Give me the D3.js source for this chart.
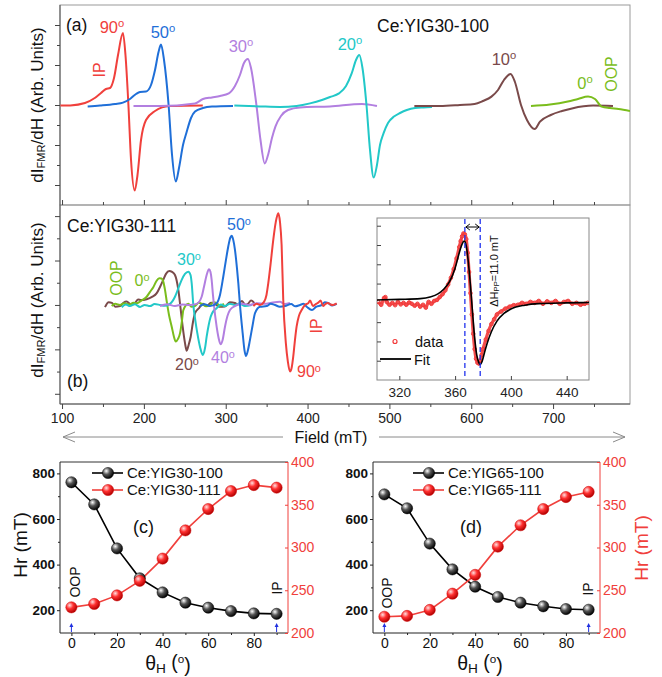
<!DOCTYPE html>
<html>
<head>
<meta charset="utf-8">
<script src="https://cdn.jsdelivr.net/npm/d3@7"></script>
<style>
  body { margin: 0; background: #fff; }
  svg { display: block; }
  text { font-family: "Liberation Sans", Arial, sans-serif; }
</style>
</head>
<body>
<svg id="fig" width="662" height="677"></svg>
<script>
// ---------- field axis (mT) ----------
const fieldMajor = [100, 200, 300, 400, 500, 600, 700];
const fieldMinor = [150, 250, 350, 450, 550, 650, 750];

// ---------- (a) Ce:YIG30-100 spectra: [field mT, dI/dH arb.] ----------
const a90 = [[98,-0.03],[110,-0.02],[128,0.1],[140,0.35],[147.6,0.6],[153.7,0.8],[158.6,0.85],[163.5,1.35],[168.4,2.5],[174.4,3.6],[177.5,2.5],[181.1,0],[184.3,-2.75],[188.8,-4.28],[192.2,-3.5],[196.5,-1.75],[202.6,-0.75],[213.6,-0.3],[231.3,-0.05],[272,-0.02]];
const a50 = [[131.3,-0.08],[146.4,-0.03],[164.7,0.05],[174.4,0.12],[183,0.3],[190.4,0.55],[195.3,0.65],[202.6,0.67],[208.7,1.0],[213.6,1.75],[217.9,2.65],[220.9,3.03],[224.6,2.25],[230.2,0],[234.4,-2.5],[239,-3.83],[242.9,-3.15],[247.8,-2.0],[251.9,-1.4],[257.6,-0.65],[262.5,-0.33],[272.2,-0.15],[283.2,-0.08],[308.9,-0.05]];
const a30 = [[187.3,-0.05],[219.7,-0.05],[262.5,0.08],[272.2,0.3],[283.2,0.38],[293,0.45],[303.8,0.58],[311.3,0.95],[317.4,1.5],[322.3,2.1],[327.1,2.3],[330.9,1.85],[337.5,0],[342.5,-1.75],[347.7,-2.92],[351.7,-2.5],[356.5,-1.65],[360.7,-1.08],[367.5,-0.55],[376.1,-0.25],[390.8,-0.12],[427.4,-0.07],[466.5,0.05],[484.8,-0.05]];
const a20 = [[310.5,-0.02],[341.9,-0.07],[366.3,-0.1],[386.6,-0.05],[403,0.08],[417.6,0.25],[427.4,0.4],[438.4,0.58],[447,0.95],[453.9,1.58],[459.2,2.25],[463.2,2.5],[467.1,1.85],[472,0],[476.3,-2.25],[480.8,-3.63],[484.8,-3.0],[488.5,-2.0],[492.8,-1.42],[498.3,-0.9],[505.6,-0.58],[513,-0.4],[521.3,-0.25],[531.3,-0.15],[541.9,-0.12],[552,-0.1]];
const a10 = [[530.5,-0.05],[561.8,-0.05],[586.2,0],[604.1,0.05],[614.3,0.2],[624.7,0.42],[632.7,0.75],[640,1.25],[648.1,1.55],[653.4,1.15],[660.8,0],[668.1,-0.75],[677.5,-1.2],[684,-0.83],[697.2,-0.5],[710.9,-0.3],[723.1,-0.17],[748.8,-0.03],[773.2,-0.05]];
const a0 = [[673,-0.05],[696.2,0.02],[718,0.17],[730.5,0.3],[742.7,0.42],[751.2,0.3],[759.4,-0.08],[769.5,-0.15],[780,-0.2],[794,-0.3]];

// ---------- (b) Ce:YIG30-111 spectra ----------
const b20 = [[152.5,-0.1],[157,0.12],[161,0.09],[165,-0.08],[170.8,-0.05],[175,0.1],[179,0.15],[184,0.02],[189.1,0.09],[193,0.25],[196.5,0.22],[203.4,0.26],[209.9,0.36],[215.7,0.53],[219.7,0.81],[223.7,1.13],[227,1.4],[231.1,1.53],[234.4,1.49],[238,1.35],[242.1,0.68],[244.8,-0.14],[247.4,-0.98],[250.2,-1.71],[252.3,-2.06],[254.7,-1.8],[257.2,-1.43],[260,-0.77],[262.5,-0.37],[267.4,-0.14],[272,0.05],[276.7,-0.05],[282,0.1],[286.9,0.05],[292,-0.08],[299.1,-0.07],[305,0.12],[311.3,0.09],[315,0.02],[319.9,0.18],[324,0.0],[327.2,0.05],[331,0.2],[333.7,0.14],[335.8,0]];
const b0 = [[160.7,-0.05],[165,0.05],[170.8,0],[176,0.08],[183,0.02],[187,0.1],[191.2,0.08],[197.7,0.22],[203.4,0.37],[207.5,0.59],[211.5,0.8],[215.4,1.08],[218.8,1.2],[221.5,1.19],[223.7,1.05],[225.8,0.68],[228.2,0.09],[230.7,-0.45],[234,-0.98],[236.8,-1.44],[238.9,-1.65],[241.7,-1.53],[244.2,-1.27],[246.6,-0.68],[248.2,-0.23],[254.3,0.05],[258,-0.08],[262.5,-0.05],[267,0.1],[271,0.05],[276,-0.06],[280.8,-0.02],[285,0.12],[289.3,0.07],[293,-0.04],[297.9,0.05]];
const b30 = [[172.9,-0.1],[178,0.02],[183,-0.05],[189,0.03],[195.3,-0.09],[201,0.0],[207.5,-0.05],[213,0.04],[219.7,0],[225,-0.04],[231.9,0.05],[238,0.37],[242.3,0.77],[246.2,1.13],[250.2,1.4],[254.3,1.5],[257,1.35],[258.4,0.98],[260.4,0],[262.8,-0.68],[265.3,-1.27],[268.6,-1.89],[271.9,-2.25],[274.7,-1.94],[276.7,-1.43],[279.2,-0.9],[281.6,-0.53],[285,-0.27],[288.9,-0.15],[294,0.02],[299.1,-0.05],[305,0.05],[311.3,0],[317,0.06],[323.5,-0.05],[331.7,0]];
const b40 = [[219.7,-0.05],[228,0.03],[238,-0.05],[247,0.02],[256.4,0],[264.5,0.05],[270.6,0.37],[273.4,0.81],[276.7,1.35],[279.6,1.61],[281.3,1.49],[282.8,1.13],[284.4,0.45],[285.6,0],[288.9,-0.98],[291.3,-1.49],[293.8,-1.77],[296.2,-1.58],[299.1,-0.98],[302.1,-0.5],[305.2,-0.23],[311.3,-0.05],[320,0.05],[329.6,0],[338,0.08],[347.9,0.05],[356,0.1],[366.3,0.14],[372,0.04],[378.5,0.09]];
const b50 = [[268.6,-0.05],[274,0.03],[280.8,-0.05],[288.9,0.08],[293,0.45],[297,1.27],[300.3,2.03],[303.1,2.63],[305.5,3.02],[307.3,3.11],[309.2,2.93],[311.3,2.48],[313.7,1.67],[315.4,0.98],[317.4,0],[320.7,-1.27],[322.9,-2.03],[324.8,-2.3],[327.2,-2.03],[329.6,-1.58],[332.7,-0.95],[335.8,-0.37],[341.9,-0.08],[350,-0.05],[355,0.05],[360.2,0],[366,-0.08],[372.4,-0.05],[380,0.04],[385,-0.06],[390.8,0],[395,0.05],[399.3,-0.09],[405.4,-0.23],[410.3,-0.09],[417.6,0],[421,0.12],[425,0.09],[430,-0.02],[435.6,0.05]];
const b90 = [[333.7,-0.05],[338,0.05],[341.9,0],[346.8,0.14],[349.8,0.45],[352,0.98],[354.7,1.8],[358.1,2.93],[361.2,3.74],[364.2,4.13],[366.3,3.74],[368.3,2.7],[370.3,0.23],[373.5,-1.73],[376,-2.57],[378.5,-3.0],[380.5,-2.84],[382.5,-2.33],[384.6,-1.58],[386.6,-0.98],[389.4,-0.5],[392.8,-0.23],[396.8,0],[400.9,0.08],[403,0.2],[406.6,-0.05],[410,0.04],[412.7,0.09],[416,0.2],[418.9,-0.05],[422,0.05],[425,0.09],[428,0.02],[431.1,0],[435.6,0.07]];

// ---------- inset: single 90° line with fit ----------
const insetTicks = [320, 360, 400, 440];
const insetData = [[305,0.05],[307,-0.1],[309,0.25],[310,0.3],[311,0.05],[313,-0.1],[315,0.0],[317,-0.12],[319,0.05],[321,-0.08],[323,0.0],[325,-0.1],[327,0.02],[329,-0.05],[331,-0.15],[333,-0.05],[335,-0.2],[337,-0.1],[339,-0.25],[341,0.05],[343,-0.05],[345,0.1],[347,0.15],[349,0.3],[351,0.45],[353,0.65],[355,0.95],[357,1.3],[359,1.75],[361,2.3],[363,2.9],[364,3.2],[365,3.45],[366,3.6],[367,3.55],[368,3.3],[369,2.6],[370,1.6],[371,0.5],[372,-0.6],[373,-1.6],[374,-2.4],[375,-2.9],[376,-3.1],[377,-3.15],[378,-3.0],[379,-2.7],[380,-2.4],[382,-1.9],[384,-1.45],[386,-1.1],[388,-0.85],[390,-0.6],[393,-0.45],[396,-0.3],[399,-0.2],[402,-0.12],[405,-0.1],[408,0.0],[411,-0.05],[414,0.05],[417,0.0],[420,0.1],[423,-0.05],[426,0.08],[429,0.0],[432,0.1],[435,-0.05],[438,0.05],[441,0.1],[444,-0.05],[447,0.0],[450,-0.1],[453,-0.05],[455,0.0]];
const insetFit = [[304,0.15],[320,0.18],[335,0.22],[342,0.3],[348,0.48],[352,0.72],[356,1.1],[360,1.8],[363,2.6],[365,3.05],[366.5,3.2],[368,2.95],[369.5,2.1],[371,0.9],[372.5,-0.5],[374,-1.8],[375.5,-2.7],[377,-3.1],[378,-3.2],[379.5,-3.0],[381,-2.6],[383,-2.1],[386,-1.5],[390,-0.95],[395,-0.55],[400,-0.32],[410,-0.12],[420,-0.04],[440,0.0],[456,0.02]];
const dHpp = [367, 378];   // peak-to-peak positions (mT)

// ---------- (c), (d) resonance field vs angle ----------
const angles   = [0, 10, 20, 30, 40, 50, 60, 70, 80, 90];
const hr30_100 = [761, 664, 471, 340, 278, 233, 211, 196, 186, 184];
const hr30_111 = [230, 234, 244, 261, 287, 320, 345, 366, 373, 370];
const hr65_100 = [708, 647, 492, 379, 303, 258, 233, 217, 205, 202];
const hr65_111 = [219, 220, 227, 246, 268, 301, 326, 345, 359, 365];
const angleTicks = [0, 20, 40, 60, 80];
const hrLeftTicks = [200, 400, 600, 800];
const hrRightTicks = [200, 250, 300, 350, 400];

const C = {
  red: "#f0403c", blue: "#1f6fd8", purple: "#b27fe0",
  cyan: "#22c8c8", brown: "#7a4a4a", green: "#7abd1c", axis: "#444"
};
const SANS = '"Liberation Sans", Arial, sans-serif';

const svg = d3.select("#fig");
svg.append("rect").attr("width", 662).attr("height", 677).attr("fill", "#fff");

const defs = svg.append("defs");
function sphereGrad(id, c0, c1, c2) {
  const g = defs.append("radialGradient").attr("id", id)
    .attr("cx", "35%").attr("cy", "32%").attr("r", "70%");
  g.append("stop").attr("offset", "0%").attr("stop-color", c0);
  g.append("stop").attr("offset", "45%").attr("stop-color", c1);
  g.append("stop").attr("offset", "100%").attr("stop-color", c2);
}
sphereGrad("gBlack", "#ffffff", "#555555", "#000000");
sphereGrad("gRed", "#ffe0e0", "#ff3030", "#b00000");

function clip(id, x, y, w, h) {
  defs.append("clipPath").attr("id", id).append("rect")
    .attr("x", x).attr("y", y).attr("width", w).attr("height", h);
}

function sup(textSel, main, s) {
  textSel.append("tspan").text(main);
  textSel.append("tspan").attr("font-size", "0.68em").attr("dy", "-0.5em").text(s);
}
function angleLabel(g, x, y, num, color, size) {
  const t = g.append("text").attr("x", x).attr("y", y).attr("text-anchor", "middle")
    .attr("fill", color).attr("font-size", size);
  sup(t, num, "o");
  return t;
}
function vText(g, cx, cy, txt, color, size) {
  return g.append("text").attr("transform", `translate(${cx},${cy}) rotate(-90)`)
    .attr("text-anchor", "middle").attr("dominant-baseline", "central")
    .attr("fill", color).attr("font-size", size).text(txt);
}
function cleanAxis(g) { g.select(".domain").remove(); g.selectAll("line").attr("stroke", C.axis); }

// ================= panels (a) and (b) =================
const x = d3.scaleLinear().domain([97.5, 794]).range([60, 630]);
const yA = d3.scaleLinear().domain([-5, 5]).range([205, 5]);
const yB = d3.scaleLinear().domain([-4.46, 4.5]).range([404, 205]);

clip("clipA", 60, 5, 570, 200);
clip("clipB", 60, 205, 570, 199);

// frames
svg.append("rect").attr("x", 60).attr("y", 5).attr("width", 570).attr("height", 200)
  .attr("fill", "none").attr("stroke", "#9a9a9a");
svg.append("rect").attr("x", 60).attr("y", 205).attr("width", 570).attr("height", 199)
  .attr("fill", "none").attr("stroke", "#9a9a9a");
svg.append("line").attr("x1", 60).attr("x2", 60).attr("y1", 5).attr("y2", 404).attr("stroke", "#555");
svg.append("line").attr("x1", 60).attr("x2", 630).attr("y1", 404).attr("y2", 404).attr("stroke", "#555");

// y ticks
[yA, yB].forEach(ys => {
  svg.append("g").attr("transform", "translate(60,0)")
    .call(d3.axisLeft(ys).tickValues([-4, -2, 0, 2, 4]).tickSize(5).tickFormat("")).call(cleanAxis);
  svg.append("g").attr("transform", "translate(60,0)")
    .call(d3.axisLeft(ys).tickValues([-3, -1, 1, 3]).tickSize(3).tickFormat("")).call(cleanAxis);
});
// x ticks of (a), inward
svg.append("g").attr("transform", "translate(0,205)")
  .call(d3.axisTop(x).tickValues(fieldMajor).tickSize(5).tickFormat("")).call(cleanAxis);
svg.append("g").attr("transform", "translate(0,205)")
  .call(d3.axisTop(x).tickValues(fieldMinor).tickSize(3).tickFormat("")).call(cleanAxis);
// x axis of (b), labelled
const xb = svg.append("g").attr("transform", "translate(0,404)")
  .call(d3.axisBottom(x).tickValues(fieldMajor).tickSize(5).tickPadding(4)).call(cleanAxis);
xb.selectAll("text").attr("font-size", 14).attr("fill", "#222").attr("font-family", SANS);
svg.append("g").attr("transform", "translate(0,404)")
  .call(d3.axisBottom(x).tickValues(fieldMinor).tickSize(3).tickFormat("")).call(cleanAxis);

// y titles
function fmrTitle(cy) {
  const t = svg.append("text").attr("transform", `translate(37,${cy}) rotate(-90)`)
    .attr("text-anchor", "middle").attr("dominant-baseline", "central")
    .attr("font-size", 17).attr("fill", "#111");
  t.append("tspan").text("dI");
  t.append("tspan").attr("font-size", "0.65em").attr("dy", "0.35em").text("FMR");
  t.append("tspan").attr("dy", "-0.23em").text("/dH (Arb. Units)");
}
fmrTitle(105);
fmrTitle(300);

// Field arrow
const fa = svg.append("g").attr("stroke", "#8a8a8a").attr("fill", "none").attr("stroke-width", 1);
fa.append("line").attr("x1", 63).attr("x2", 283).attr("y1", 437).attr("y2", 437);
fa.append("line").attr("x1", 379).attr("x2", 625).attr("y1", 437).attr("y2", 437);
fa.append("path").attr("d", "M75,432 L63,437 L75,442");
fa.append("path").attr("d", "M613,432 L625,437 L613,442");
svg.append("text").attr("x", 331).attr("y", 442.5).attr("text-anchor", "middle")
  .attr("font-size", 16).attr("fill", "#111").text("Field (mT)");

// spectra
function drawSpectra(clipId, ys, list) {
  const g = svg.append("g").attr("clip-path", `url(#${clipId})`);
  const line = d3.line().x(d => x(d[0])).y(d => ys(d[1])).curve(d3.curveMonotoneX);
  list.forEach(([data, color]) => {
    g.append("path").datum(data).attr("d", line).attr("fill", "none")
      .attr("stroke", color).attr("stroke-width", 2).attr("stroke-linejoin", "round");
  });
}
drawSpectra("clipA", yA, [[a90, C.red], [a50, C.blue], [a30, C.purple], [a20, C.cyan], [a10, C.brown], [a0, C.green]]);
drawSpectra("clipB", yB, [[b20, C.brown], [b0, C.green], [b30, C.cyan], [b40, C.purple], [b50, C.blue], [b90, C.red]]);

// labels (a)
const la = svg.append("g");
la.append("text").attr("x", 66).attr("y", 31).attr("font-size", 17.5).attr("fill", "#111").text("(a)");
la.append("text").attr("x", 377).attr("y", 32).attr("font-size", 17.5).attr("fill", "#111").text("Ce:YIG30-100");
angleLabel(la, 112, 33, "90", C.red, 16.5);
vText(la, 99, 70, "IP", C.red, 16);
angleLabel(la, 163, 38, "50", C.blue, 16.5);
angleLabel(la, 241, 52, "30", C.purple, 16.5);
angleLabel(la, 350, 50, "20", C.cyan, 16.5);
angleLabel(la, 504, 65, "10", C.brown, 16.5);
angleLabel(la, 585, 89, "0", C.green, 16.5);
vText(la, 611, 74, "OOP", C.green, 16);

// labels (b)
const lb = svg.append("g");
lb.append("text").attr("x", 67).attr("y", 232).attr("font-size", 17.5).attr("fill", "#111").text("Ce:YIG30-111");
lb.append("text").attr("x", 67).attr("y", 387).attr("font-size", 17.5).attr("fill", "#111").text("(b)");
angleLabel(lb, 239, 230, "50", C.blue, 16);
angleLabel(lb, 189, 265, "30", C.cyan, 16);
angleLabel(lb, 142, 286, "0", C.green, 16);
vText(lb, 116, 278, "OOP", C.green, 16);
angleLabel(lb, 187, 370, "20", C.brown, 16);
angleLabel(lb, 223, 363, "40", C.purple, 16);
vText(lb, 316, 326, "IP", C.red, 16);
angleLabel(lb, 309, 377, "90", C.red, 16);

// ================= inset =================
const xi = d3.scaleLinear().domain([304, 456]).range([377, 589]);
const yi = d3.scaleLinear().domain([-4, 4.4]).range([380, 218]);
clip("clipI", 377, 218, 212, 162);
svg.append("rect").attr("x", 377).attr("y", 218).attr("width", 212).attr("height", 162)
  .attr("fill", "#fff").attr("stroke", "#888");
svg.append("g").attr("transform", "translate(377,0)")
  .call(d3.axisRight(yi).tickValues([-3, -2, -1, 0, 1, 2, 3, 4]).tickSize(4).tickFormat("")).call(cleanAxis);
const xiAx = svg.append("g").attr("transform", "translate(0,380)")
  .call(d3.axisBottom(xi).tickValues(insetTicks).tickSizeInner(-4).tickSizeOuter(0).tickPadding(7)).call(cleanAxis);
xiAx.selectAll("text").attr("font-size", 13.5).attr("fill", "#222").attr("font-family", SANS);

const gi = svg.append("g").attr("clip-path", "url(#clipI)");
const lineI = d3.line().x(d => xi(d[0])).y(d => yi(d[1])).curve(d3.curveMonotoneX);
gi.append("path").datum(insetData).attr("d", lineI).attr("fill", "none")
  .attr("stroke", "#f23a3a").attr("stroke-width", 3.2).attr("stroke-opacity", 0.9);
gi.selectAll("circle.dp").data(insetData).join("circle").attr("class", "dp")
  .attr("cx", d => xi(d[0])).attr("cy", d => yi(d[1])).attr("r", 1.8)
  .attr("fill", "none").attr("stroke", "#f23a3a").attr("stroke-width", 1);
gi.append("path").datum(insetFit).attr("d", lineI).attr("fill", "none")
  .attr("stroke", "#000").attr("stroke-width", 1.6);
// peak-to-peak markers
dHpp.forEach(h => {
  svg.append("line").attr("x1", xi(h)).attr("x2", xi(h)).attr("y1", 219).attr("y2", 379)
    .attr("stroke", "#2233ee").attr("stroke-width", 1.3).attr("stroke-dasharray", "5,3");
});
const ay = 227;
const ar = svg.append("g").attr("stroke", "#000").attr("fill", "none").attr("stroke-width", 1);
ar.append("line").attr("x1", xi(dHpp[0]) + 1).attr("x2", xi(dHpp[1]) - 1).attr("y1", ay).attr("y2", ay);
ar.append("path").attr("d", `M${xi(dHpp[0]) + 5},${ay - 3} L${xi(dHpp[0]) + 1},${ay} L${xi(dHpp[0]) + 5},${ay + 3}`);
ar.append("path").attr("d", `M${xi(dHpp[1]) - 5},${ay - 3} L${xi(dHpp[1]) - 1},${ay} L${xi(dHpp[1]) - 5},${ay + 3}`);
const dt = svg.append("text").attr("transform", `translate(494,271) rotate(-90)`)
  .attr("text-anchor", "middle").attr("dominant-baseline", "central")
  .attr("font-size", 11).attr("fill", "#111");
dt.append("tspan").text("\u0394H");
dt.append("tspan").attr("font-size", "0.7em").attr("dy", "0.3em").text("PP");
dt.append("tspan").attr("dy", "-0.2em").text("=11.0 mT");
// inset legend
svg.append("circle").attr("cx", 395).attr("cy", 341.5).attr("r", 2)
  .attr("fill", "none").attr("stroke", "#f23a3a").attr("stroke-width", 1.2);
svg.append("text").attr("x", 415).attr("y", 346.5).attr("font-size", 14.5).attr("fill", "#111").text("data");
svg.append("line").attr("x1", 380).attr("x2", 411).attr("y1", 359).attr("y2", 359)
  .attr("stroke", "#000").attr("stroke-width", 1.8);
svg.append("text").attr("x", 414).attr("y", 364.5).attr("font-size", 14.5).attr("fill", "#111").text("Fit");

// ================= panels (c) and (d) =================
function hrPanel(o) {
  const xs = d3.scaleLinear().domain([-5, 95]).range([o.x0, o.x1]);
  const yl = d3.scaleLinear().domain([100, 850]).range([633, 462]);
  const yr = d3.scaleLinear().domain([200, 400]).range([633, 462]);
  const g = svg.append("g");
  // frame
  g.append("line").attr("x1", o.x0).attr("x2", o.x1).attr("y1", 462).attr("y2", 462).attr("stroke", "#333");
  g.append("line").attr("x1", o.x0).attr("x2", o.x1).attr("y1", 633).attr("y2", 633).attr("stroke", "#222");
  g.append("line").attr("x1", o.x0).attr("x2", o.x0).attr("y1", 462).attr("y2", 633).attr("stroke", "#222");
  g.append("line").attr("x1", o.x1).attr("x2", o.x1).attr("y1", 462).attr("y2", 633).attr("stroke", C.red);

  const la = g.append("g").attr("transform", `translate(${o.x0},0)`)
    .call(d3.axisLeft(yl).tickValues(hrLeftTicks).tickSize(3).tickPadding(2));
  la.select(".domain").remove();
  la.selectAll("line").attr("stroke", "#222");
  la.selectAll("text").attr("font-size", 13.5).attr("font-weight", "bold").attr("fill", "#111").attr("font-family", SANS);
  g.append("g").attr("transform", `translate(${o.x0},0)`)
    .call(d3.axisLeft(yl).tickValues([300, 500, 700]).tickSize(2).tickFormat(""))
    .call(s => { s.select(".domain").remove(); s.selectAll("line").attr("stroke", "#222"); });

  const ra = g.append("g").attr("transform", `translate(${o.x1},0)`)
    .call(d3.axisRight(yr).tickValues(hrRightTicks).tickSizeInner(-3).tickSizeOuter(0).tickPadding(3));
  ra.select(".domain").remove();
  ra.selectAll("line").attr("stroke", C.red);
  ra.selectAll("text").attr("font-size", 14).attr("fill", C.red).attr("font-family", SANS);

  const ba = g.append("g").attr("transform", "translate(0,633)")
    .call(d3.axisBottom(xs).tickValues(angleTicks).tickSize(3).tickPadding(2));
  ba.select(".domain").remove();
  ba.selectAll("line").attr("stroke", "#222");
  ba.selectAll("text").attr("font-size", 14).attr("fill", "#111").attr("font-family", SANS);
  g.append("g").attr("transform", "translate(0,633)")
    .call(d3.axisBottom(xs).tickValues([10, 30, 50, 70, 90]).tickSize(2).tickFormat(""))
    .call(s => { s.select(".domain").remove(); s.selectAll("line").attr("stroke", "#222"); });

  // series
  const s100 = angles.map((a, i) => [a, o.d100[i]]);
  const s111 = angles.map((a, i) => [a, o.d111[i]]);
  g.append("path").datum(s100).attr("fill", "none").attr("stroke", "#000").attr("stroke-width", 1.6)
    .attr("d", d3.line().x(d => xs(d[0])).y(d => yl(d[1])));
  g.append("path").datum(s111).attr("fill", "none").attr("stroke", C.red).attr("stroke-width", 1.6)
    .attr("d", d3.line().x(d => xs(d[0])).y(d => yr(d[1])));
  g.selectAll("circle.k").data(s100).join("circle").attr("class", "k")
    .attr("cx", d => xs(d[0])).attr("cy", d => yl(d[1])).attr("r", 5.6)
    .attr("fill", "url(#gBlack)").attr("stroke", "#000").attr("stroke-width", 0.5);
  g.selectAll("circle.r").data(s111).join("circle").attr("class", "r")
    .attr("cx", d => xs(d[0])).attr("cy", d => yr(d[1])).attr("r", 5.6)
    .attr("fill", "url(#gRed)").attr("stroke", "#c00").attr("stroke-width", 0.5);

  // legend
  const lx = o.legX;
  [[473, "#000", "url(#gBlack)", o.name100], [490, C.red, "url(#gRed)", o.name111]].forEach(([ly, c, f, name]) => {
    g.append("line").attr("x1", lx).attr("x2", lx + 31).attr("y1", ly).attr("y2", ly)
      .attr("stroke", c).attr("stroke-width", 1.6);
    g.append("circle").attr("cx", lx + 16).attr("cy", ly).attr("r", 5.6).attr("fill", f)
      .attr("stroke", c === "#000" ? "#000" : "#c00").attr("stroke-width", 0.5);
    g.append("text").attr("x", lx + 35).attr("y", ly + 5).attr("font-size", 15).attr("fill", "#111").text(name);
  });

  g.append("text").attr("x", o.tagX).attr("y", 533).attr("font-size", 18).attr("fill", "#111").text(o.tag);
  vText(g, o.oop[0], o.oop[1], "OOP", "#111", 14);
  vText(g, o.ip[0], o.ip[1], "IP", "#111", 14);

  // angle markers
  [0, 90].forEach(a => {
    const ax = xs(a);
    g.append("line").attr("x1", ax).attr("x2", ax).attr("y1", 632).attr("y2", 627)
      .attr("stroke", "#2030e0").attr("stroke-width", 1);
    g.append("path").attr("d", `M${ax - 2},${627} L${ax},${623} L${ax + 2},${627}Z`).attr("fill", "#2030e0");
  });

  // x title
  const tt = g.append("text").attr("x", o.thX).attr("y", 670).attr("text-anchor", "middle")
    .attr("font-family", '"Liberation Serif", "Times New Roman", serif').attr("font-size", 19.5).attr("fill", "#111");
  tt.append("tspan").text("\u03B8");
  tt.append("tspan").attr("font-size", "0.7em").attr("dy", "0.25em").text("H");
  tt.append("tspan").attr("dy", "-0.25em").text(" (");
  tt.append("tspan").attr("font-size", "0.6em").attr("dy", "-0.45em").text("o");
  tt.append("tspan").attr("dy", "0.45em").text(")");

  if (o.leftTitle) {
    g.append("text").attr("transform", "translate(20,545) rotate(-90)").attr("text-anchor", "middle")
      .attr("dominant-baseline", "central").attr("font-size", 19).attr("fill", "#111").text("Hr (mT)");
  }
  if (o.rightTitle) {
    g.append("text").attr("transform", "translate(641,548) rotate(-90)").attr("text-anchor", "middle")
      .attr("dominant-baseline", "central").attr("font-size", 19).attr("fill", C.red).text("Hr (mT)");
  }
}

hrPanel({ x0: 60, x1: 288, d100: hr30_100, d111: hr30_111, name100: "Ce:YIG30-100", name111: "Ce:YIG30-111",
  legX: 92, tag: "(c)", tagX: 133, oop: [75, 582], ip: [277, 588], thX: 168, leftTitle: true, rightTitle: false });
hrPanel({ x0: 373, x1: 600, d100: hr65_100, d111: hr65_111, name100: "Ce:YIG65-100", name111: "Ce:YIG65-111",
  legX: 413, tag: "(d)", tagX: 460, oop: [387, 593], ip: [588, 589], thX: 480, leftTitle: false, rightTitle: true });
</script>
</body>
</html>
